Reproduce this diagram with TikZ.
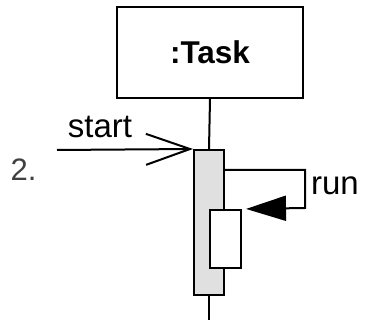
\documentclass[tikz,border=0pt]{standalone}
\usepackage{fontspec}
\setmainfont{Liberation Sans}
\usetikzlibrary{arrows.meta,positioning}

\begin{document}
\begin{tikzpicture}[line cap=butt,line join=miter,x=1pt,y=-1pt]
\tikzset{>=latex}
\def\lw{2pt}
\definecolor{barfill}{gray}{0.88}
\definecolor{stepgrey}{gray}{0.25}
\tikzset{
  objbox/.style={draw, line width=\lw, minimum width=186pt, minimum height=91pt, inner sep=0pt, font=\fontsize{31.5}{31.5}\selectfont\bfseries},
  actbar/.style={draw, line width=\lw, fill=barfill, minimum width=30pt, minimum height=145pt, inner sep=0pt},
  nestbar/.style={draw, line width=\lw, fill=white, minimum width=31pt, minimum height=58pt, inner sep=0pt},
  msgtext/.style={font=\fontsize{33}{33}\selectfont, anchor=base, inner sep=0pt},
  callmsg/.style={line width=\lw, -{Straight Barb[length=44pt,width=31pt]}},
  selfmsg/.style={line width=\lw, -{Triangle[length=40pt,width=25pt]}, shorten >=4pt}
}
\useasboundingbox (0,0) rectangle (369,320);

% object and lifeline
\node[objbox] (task) at (210,52.5) {:Task};
\node[actbar] (bar) at (209,222.5) {};
\coordinate (lifeend) at (209,320);
\draw[line width=\lw] (task.south) -- (bar.north);
\draw[line width=\lw] (bar.south) -- (lifeend);

% incoming message
\coordinate (caller) at (57,150);
\draw[callmsg] (caller) -- (bar.north west);
\node[msgtext] (startlbl) at (100,138) {start};
\node[msgtext, text=stepgrey, font=\fontsize{31}{31}\selectfont] (stepno) at (23.5,181) {2.};

% self call
\node[nestbar] (nested) at (225.5,239) {};
\draw[selfmsg] ([yshift=-21pt]bar.north east) -- ++(80,0) -- ++(0,38) -- (nested.north east);
\node[msgtext] (runlbl) at (335,195) {run};

\end{tikzpicture}
\end{document}
